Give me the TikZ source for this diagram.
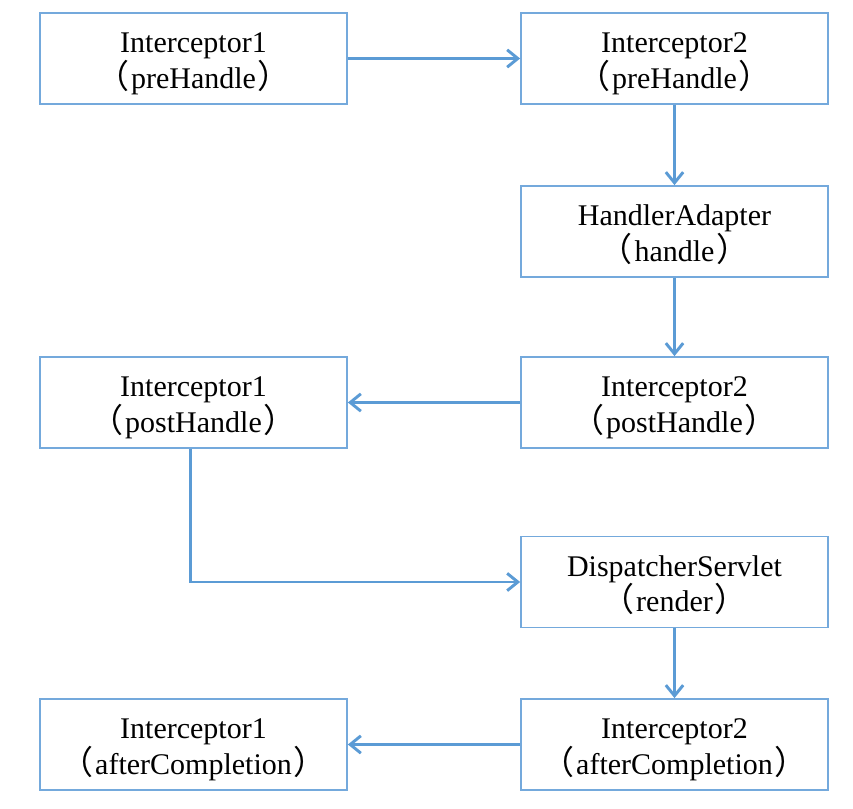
\documentclass[tikz,border=0pt]{standalone}
\usepackage{fontspec}
\setmainfont{Liberation Serif}
\newfontfamily\cjk{Noto Sans CJK SC}[Scale=1.1]
\usetikzlibrary{arrows.meta}
\definecolor{boxblue}{HTML}{74A9DC}
\definecolor{arrblue}{HTML}{5B9BD5}
\newcommand{\lp}{{\cjk （}\kern1.5pt}
\newcommand{\rp}{\kern1.5pt{\cjk ）}}
\newcommand{\twoline}[2]{\raisebox{-9pt}[0pt][0pt]{\begin{tabular}{@{}c@{}}#1\\[-2.4pt]#2\end{tabular}}}
\begin{document}
\begin{tikzpicture}[x=0.75pt,y=-0.75pt,
  stepbox/.style={draw=boxblue,line width=1.3pt,rectangle,minimum width=230.25pt,minimum height=68.25pt,inner sep=0pt,
    font=\fontsize{22.5pt}{26.25pt}\selectfont},
  flow/.style={draw=arrblue,line width=2.2pt,-{Straight Barb[length=8pt,width=13pt,line width=2.2pt]}}]
\useasboundingbox (0,0) rectangle (853,809);
\node[stepbox] (l1) at (193.5,58.5) {\twoline{Interceptor1}{\lp preHandle\rp}};
\node[stepbox] (r1) at (674.5,58.5) {\twoline{Interceptor2}{\lp preHandle\rp}};
\node[stepbox] (r2) at (674.5,231.5) {\twoline{HandlerAdapter}{\lp handle\rp}};
\node[stepbox] (r3) at (674.5,402.5) {\twoline{Interceptor2}{\lp postHandle\rp}};
\node[stepbox] (l3) at (193.5,402.5) {\twoline{Interceptor1}{\lp postHandle\rp}};
\node[stepbox] (r4) at (674.5,582) {\twoline{DispatcherServlet}{\lp render\rp}};
\node[stepbox] (r5) at (674.5,744.5) {\twoline{Interceptor2}{\lp afterCompletion\rp}};
\node[stepbox] (l5) at (193.5,744.5) {\twoline{Interceptor1}{\lp afterCompletion\rp}};
\draw[flow] (l1) -- (r1);
\draw[flow] (r1) -- (r2);
\draw[flow] (r2) -- (r3);
\draw[flow] (r3) -- (l3);
\draw[flow] ([xshift=-2.5pt]l3.south) |- (r4.west);
\draw[flow] (r4) -- (r5);
\draw[flow] (r5) -- (l5);
\end{tikzpicture}
\end{document}
